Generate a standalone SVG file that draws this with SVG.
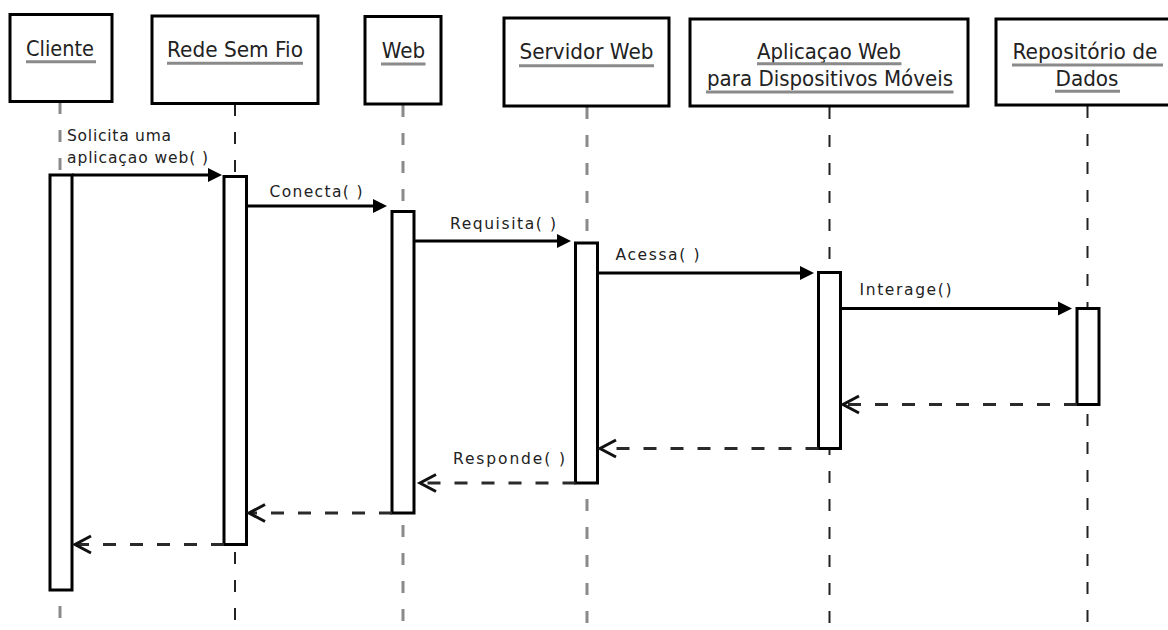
<svg xmlns="http://www.w3.org/2000/svg" width="1168" height="630" viewBox="0 0 1168 630">
  <style>
    .obj { fill: #ffffff; stroke: #000000; stroke-width: 3; }
    .bar { fill: #ffffff; stroke: #000000; stroke-width: 3; }
    .life { fill: none; stroke-dasharray: 12 16; }
    .life-g { stroke: #8a8a8a; stroke-width: 3; }
    .life-d { stroke: #222222; stroke-width: 2; }
    .uline { stroke: #8a8a8a; stroke-width: 3; }
    .hdr { font-family: "DejaVu Sans", "Liberation Sans", sans-serif; font-size: 21.5px; fill: #222222; text-anchor: middle; }
    .lbl { font-family: "DejaVu Sans", "Liberation Sans", sans-serif; font-size: 15.5px; fill: #222222; }
    .call { fill: none; stroke: #000000; stroke-width: 3; marker-end: url(#solid); }
    .ret { fill: none; stroke: #2a2a2a; stroke-width: 3; stroke-dasharray: 13 14; marker-end: url(#open); }
  </style>
  <defs>
    <marker id="solid" markerUnits="userSpaceOnUse" markerWidth="16" markerHeight="16" refX="6" refY="7" orient="auto" overflow="visible">
      <path d="M0,0 L14,7 L0,14 Z" fill="#000000"/>
    </marker>
    <marker id="open" markerUnits="userSpaceOnUse" markerWidth="20" markerHeight="20" refX="16" refY="8.5" orient="auto" overflow="visible">
      <path d="M0,0 L16,8.5 L0,17" fill="none" stroke="#111111" stroke-width="3"/>
    </marker>
  </defs>

  <rect width="1168" height="630" fill="#ffffff"/>

  <!-- lifelines -->
  <g id="lifelines">
    <line class="life life-g" x1="60" y1="102" x2="60" y2="630"/>
    <line class="life life-d" x1="235" y1="104" x2="235" y2="630"/>
    <line class="life life-g" x1="403" y1="105" x2="403" y2="630"/>
    <line class="life life-g" x1="587" y1="107" x2="587" y2="630"/>
    <line class="life life-d" x1="829.5" y1="107" x2="829.5" y2="630"/>
    <line class="life life-d" x1="1087.5" y1="106" x2="1087.5" y2="630"/>
  </g>

  <!-- participants -->
  <g id="cliente">
    <rect class="obj" x="10" y="14.5" width="102" height="87"/>
    <text class="hdr" x="60" y="56" textLength="68" lengthAdjust="spacingAndGlyphs">Cliente</text>
    <line class="uline" x1="26" y1="61.7" x2="96" y2="61.7"/>
    <rect class="bar" x="50" y="175" width="22" height="415"/>
  </g>
  <g id="rede-sem-fio">
    <rect class="obj" x="152" y="16" width="166" height="87.5"/>
    <text class="hdr" x="235" y="57" textLength="136" lengthAdjust="spacingAndGlyphs">Rede Sem Fio</text>
    <line class="uline" x1="167" y1="63.3" x2="303" y2="63.3"/>
    <rect class="bar" x="224" y="176.5" width="22.5" height="368"/>
  </g>
  <g id="web">
    <rect class="obj" x="365" y="16.5" width="76" height="87.5"/>
    <text class="hdr" x="403.5" y="57.5" textLength="43.5" lengthAdjust="spacingAndGlyphs">Web</text>
    <line class="uline" x1="381" y1="64" x2="425.5" y2="64"/>
    <rect class="bar" x="392" y="211.5" width="22" height="301.5"/>
  </g>
  <g id="servidor-web">
    <rect class="obj" x="504" y="18" width="165" height="88"/>
    <text class="hdr" x="586.5" y="59" textLength="134" lengthAdjust="spacingAndGlyphs">Servidor Web</text>
    <line class="uline" x1="519" y1="65.7" x2="654" y2="65.7"/>
    <rect class="bar" x="575.5" y="243" width="22" height="240"/>
  </g>
  <g id="aplicacao-web">
    <rect class="obj" x="690" y="19" width="278" height="87"/>
    <text class="hdr" x="829" y="59" textLength="144" lengthAdjust="spacingAndGlyphs">Aplicaçao Web</text>
    <line class="uline" x1="757" y1="63.7" x2="901.5" y2="63.7"/>
    <text class="hdr" x="830" y="86" textLength="246" lengthAdjust="spacingAndGlyphs">para Dispositivos Móveis</text>
    <line class="uline" x1="706" y1="92" x2="953.5" y2="92"/>
    <rect class="bar" x="818.5" y="272.5" width="22" height="176"/>
  </g>
  <g id="repositorio-de-dados">
    <rect class="obj" x="996" y="19" width="190" height="86"/>
    <text class="hdr" x="1085" y="59.3" textLength="145" lengthAdjust="spacingAndGlyphs">Repositório de</text>
    <line class="uline" x1="1012" y1="65" x2="1163" y2="65"/>
    <text class="hdr" x="1087" y="86" textLength="63" lengthAdjust="spacingAndGlyphs">Dados</text>
    <line class="uline" x1="1055" y1="91.3" x2="1120" y2="91.3"/>
    <rect class="bar" x="1077" y="308.5" width="22" height="96"/>
  </g>

  <!-- messages -->
  <g id="messages">
    <path class="call" d="M72,175 H214"/>
    <path class="call" d="M246.5,206 H379"/>
    <path class="call" d="M414,241 H563"/>
    <path class="call" d="M597.5,273 H806"/>
    <path class="call" d="M840.5,308.5 H1064"/>

    <path class="ret" d="M1077,404.5 H843"/>
    <path class="ret" d="M818.5,448.5 H600"/>
    <path class="ret" d="M575.5,483 H420"/>
    <path class="ret" d="M392,513 H249"/>
    <path class="ret" d="M224,544.5 H75"/>

    <text class="lbl" x="67" y="141" textLength="104" lengthAdjust="spacing">Solicita uma</text>
    <text class="lbl" x="67" y="162.7" textLength="141" lengthAdjust="spacing">aplicaçao web( )</text>
    <text class="lbl" x="269.5" y="197.3" textLength="93" lengthAdjust="spacing">Conecta( )</text>
    <text class="lbl" x="450" y="229" textLength="106" lengthAdjust="spacing">Requisita( )</text>
    <text class="lbl" x="615.5" y="260" textLength="84" lengthAdjust="spacing">Acessa( )</text>
    <text class="lbl" x="859.5" y="295" textLength="92" lengthAdjust="spacing">Interage()</text>
    <text class="lbl" x="453" y="464" textLength="112" lengthAdjust="spacing">Responde( )</text>
  </g>
</svg>
